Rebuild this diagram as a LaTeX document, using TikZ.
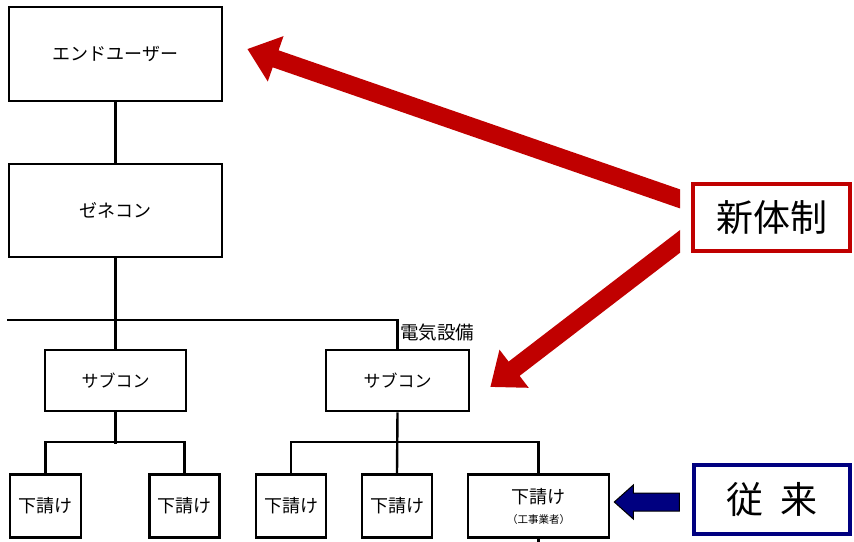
\documentclass[tikz,border=0pt]{standalone}
\usepackage{fontspec}
\newfontfamily\jp{Noto Sans CJK JP}
\usetikzlibrary{arrows.meta,calc}
\definecolor{darkred}{RGB}{192,0,0}
\definecolor{navyb}{RGB}{0,0,128}
\begin{document}
\begin{tikzpicture}[x=1pt,y=-1pt,
  box/.style={draw=black,line width=2.6pt,fill=white,inner sep=0pt,font=\jp\fontsize{17}{18}\selectfont},
  bigbox/.style={box,font=\jp\fontsize{18}{20}\selectfont},
  smallbox/.style={box,font=\jp\fontsize{18}{20}\selectfont},
  conn/.style={draw=black,line width=2.4pt},
  redarrow/.style={draw=darkred,line width=18pt,-{Triangle[length=30pt,width=46pt]}},
  tagbox/.style={line width=4pt,fill=white,inner sep=0pt,font=\jp\fontsize{37}{40}\selectfont}]
\useasboundingbox (0,0) rectangle (854,541);
\fill[white] (0,0) rectangle (854,541);
\coordinate (hl) at (7,320);
\node[bigbox,minimum width=213pt,minimum height=94pt] (eu) at (115.5,54) {エンドユーザー};
\node[bigbox,minimum width=213pt,minimum height=93pt] (gc) at (115.5,210.5) {ゼネコン};
\node[box,minimum width=141pt,minimum height=61pt] (sc1) at (115.5,380.5) {サブコン};
\node[box,minimum width=143pt,minimum height=61pt] (sc2) at (397.5,380.5) {サブコン};
\node[smallbox,minimum width=71pt,minimum height=63pt] (s1) at (45.5,506) {下請け};
\node[smallbox,minimum width=70pt,minimum height=63pt] (s2) at (184.5,506) {下請け};
\node[smallbox,minimum width=70pt,minimum height=63pt] (s3) at (291,506) {下請け};
\node[smallbox,minimum width=70pt,minimum height=63pt] (s4) at (397,506) {下請け};
\node[smallbox,minimum width=141pt,minimum height=63pt,align=center] (s5) at (538.5,506) {下請け\\[0pt]{\fontsize{10.5}{12}\selectfont （工事業者）}};
\node[anchor=west,inner sep=0pt,font=\jp\fontsize{18.5}{20}\selectfont] (elec) at (400,333) {電気設備};
\draw[conn] (eu.south) -- (gc.north);
\draw[conn] (gc.south) -- (sc1.north);
\draw[conn] (hl) -| (sc2.north);
\draw[conn] (sc1.south) -- ($(sc1.south)+(0,32)$);
\draw[conn] (s1.north) -- ++(0,-31) -| (s2.north);
\draw[conn] (sc2.south) -- (s4.north);
\draw[conn] (s3.north) -- ++(0,-31) -| (s5.north);
\coordinate (stub) at ($(s5.south)+(0,6)$);
\draw[conn] (s5.south) -- (stub);
% tag boxes
\node[tagbox,draw=darkred,minimum width=157pt,minimum height=67pt] (newsys) at (771.5,217.5) {新体制};
\node[tagbox,draw=navyb,line width=4.5pt,minimum width=156pt,minimum height=69pt] (jurai) at (772,499.5) {\spaceskip=17pt 従 来};
% red arrows
\coordinate (a1s) at ($(newsys.west)+(-2,-15.5)$);
\coordinate (a1e) at ($(eu.east)+(24,-5)$);
\coordinate (a2s) at ($(newsys.west)+(-2,17)$);
\coordinate (a2e) at ($(sc2.east)+(20,6.5)$);
\begin{scope}
\clip (0,0) rectangle (680,541);
\draw[redarrow] ($(a1s)!-20pt!(a1e)$) -- (a1e);
\draw[redarrow] ($(a2s)!-20pt!(a2e)$) -- (a2e);
\end{scope}
% blue arrow
\coordinate (bt) at ($(s5.east)+(4,-4)$);
\filldraw[fill=navyb,draw=black,line width=1pt]
  (bt) -- ++(19,-17) -- ++(0,8) -- ++(46,0) -- ++(0,18) -- ++(-46,0) -- ++(0,8) -- cycle;
\end{tikzpicture}
\end{document}
